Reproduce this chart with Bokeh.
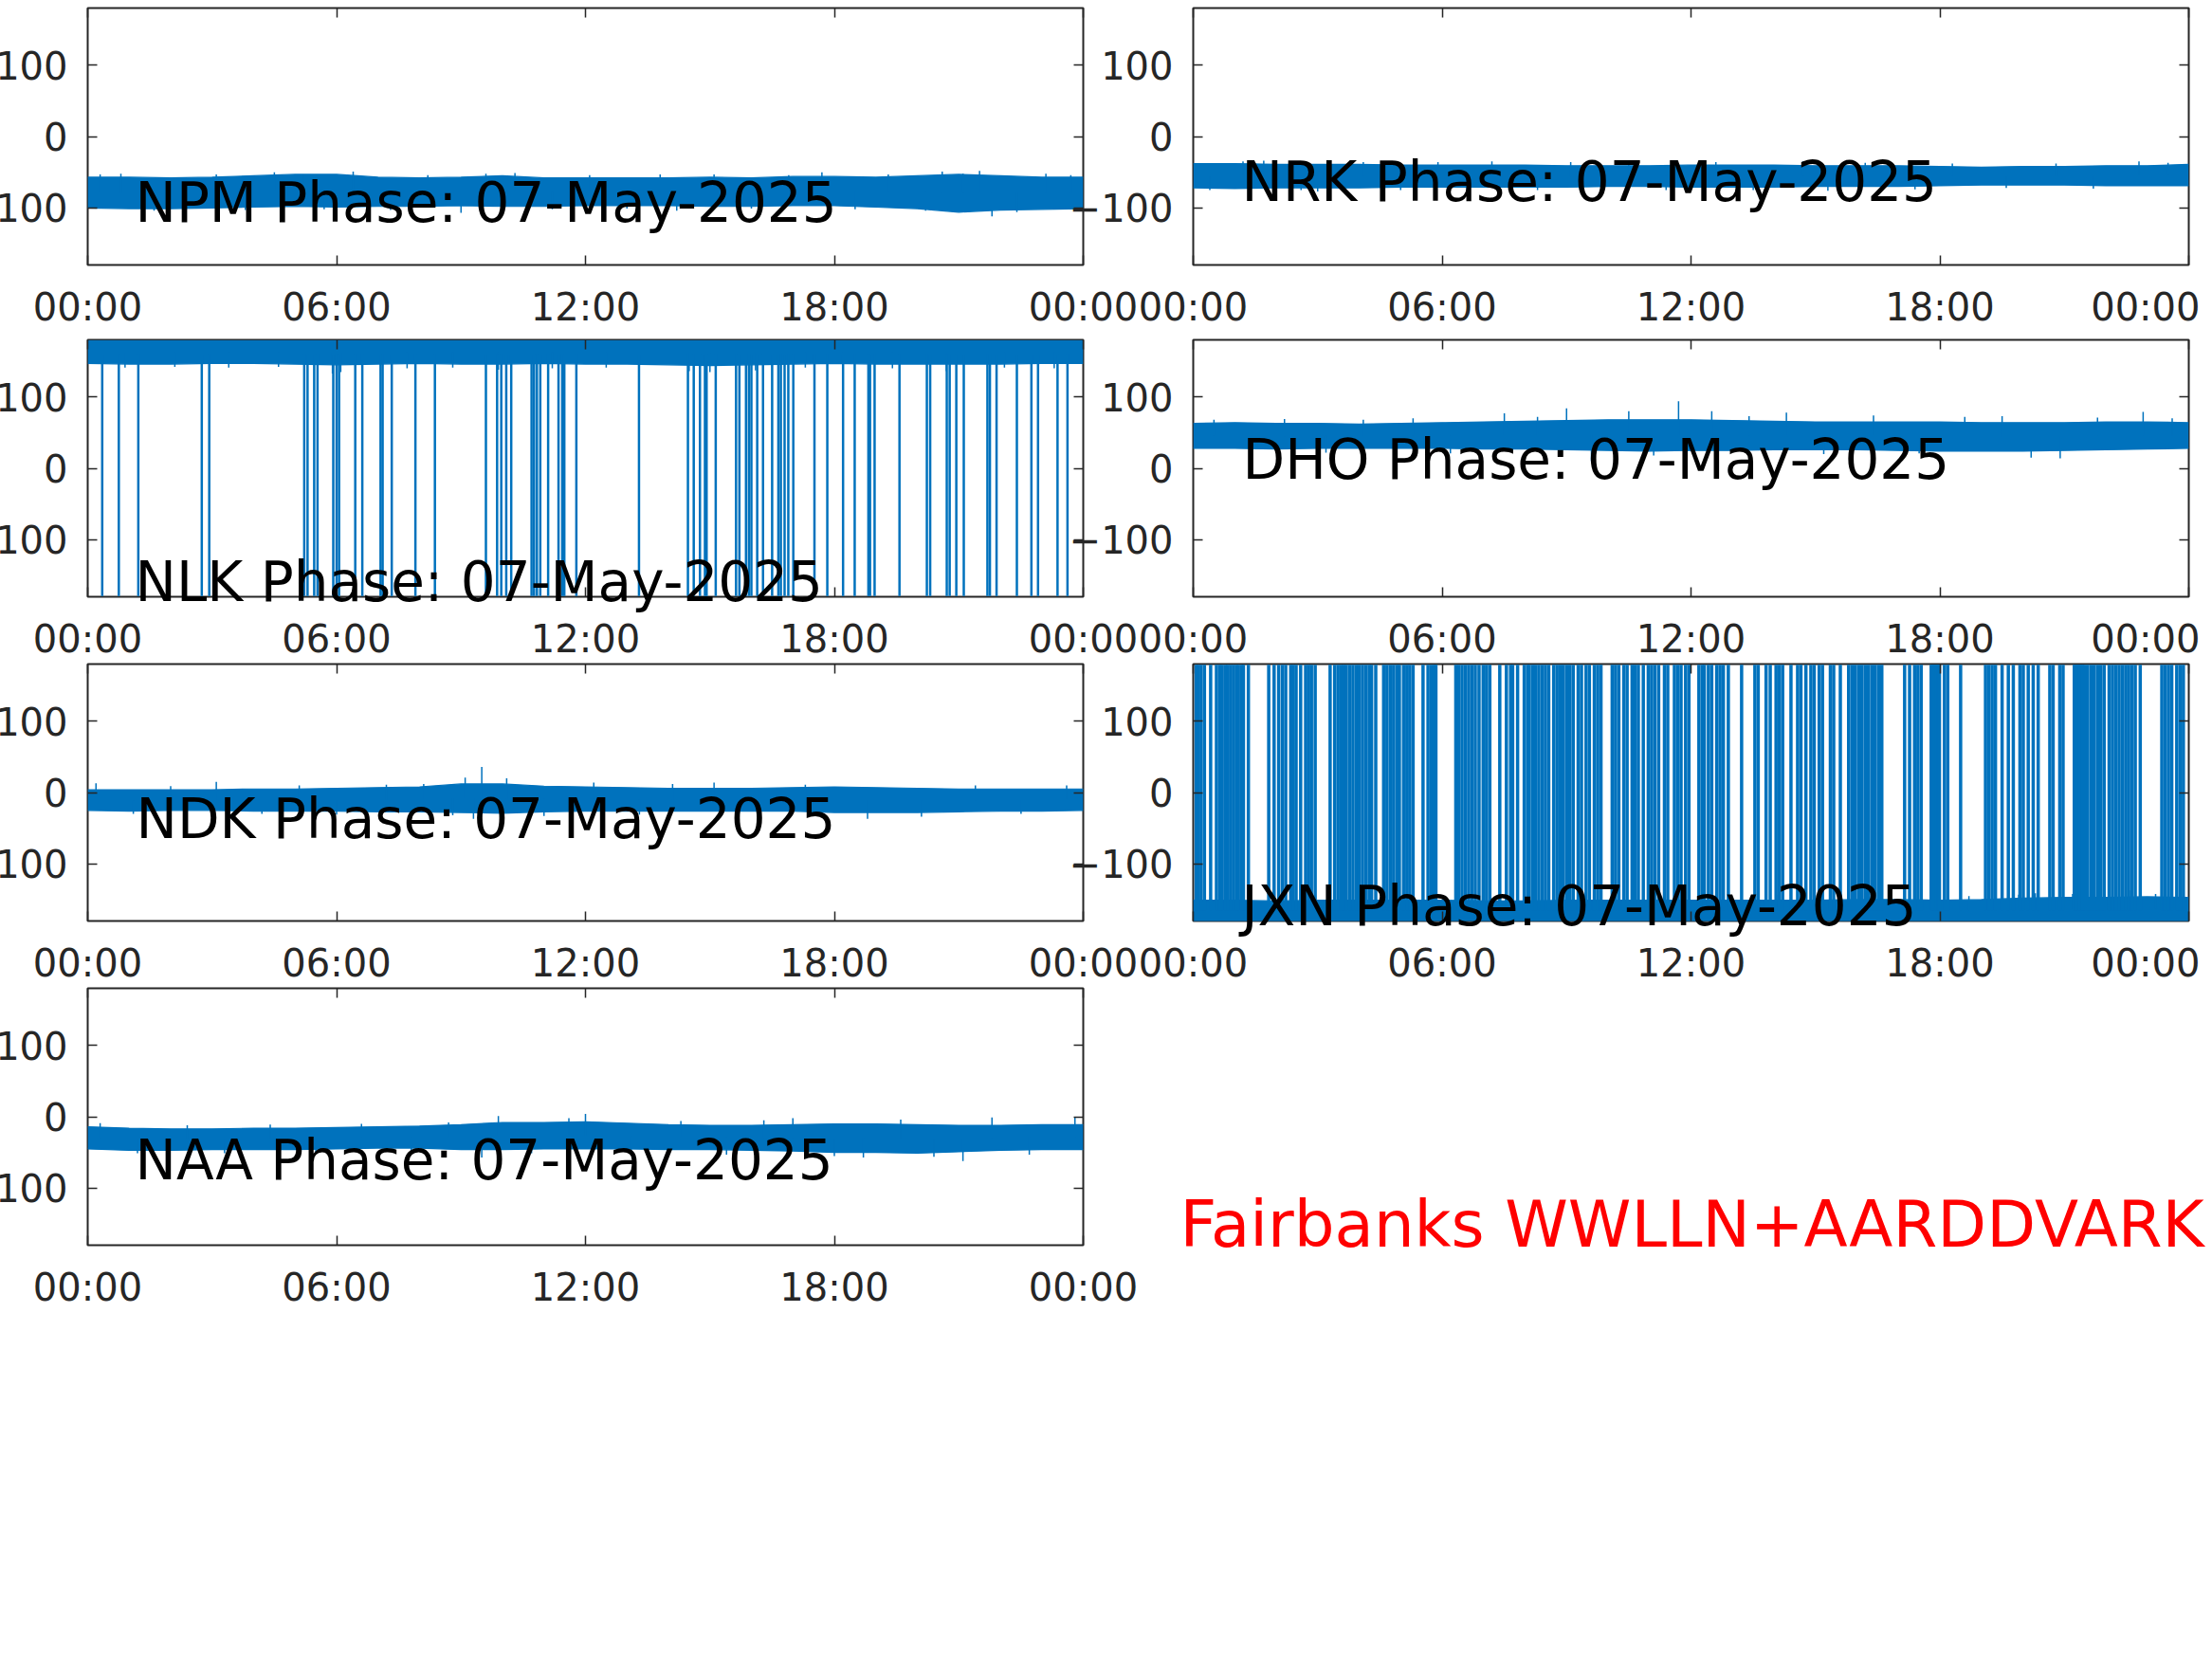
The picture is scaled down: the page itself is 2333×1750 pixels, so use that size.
from bokeh.plotting import figure
from bokeh.layouts import row, column
from bokeh.models import Range1d, FixedTicker, LinearAxis, Label, CustomJSTickFormatter
from bokeh.embed import file_html
from bokeh.resources import INLINE

# ---------------- data ----------------
HOURS = list(range(25))
X_TICKS = [0, 6, 12, 18, 24]
X_TICK_LABELS = ["00:00", "06:00", "12:00", "18:00", "00:00"]
Y_TICKS = [-100, 0, 100]
DATE = "07-May-2025"
FOOTER = "Fairbanks WWLLN+AARDDVARK"

NPM_UPPER = [-57, -57, -58, -57, -55, -53, -53, -57, -58, -57, -55, -58, -58, -58, -58, -57, -58, -56, -56, -57, -55, -53, -55, -57, -57]
NPM_LOWER = [-100, -101, -101, -100, -99, -98, -99, -98, -98, -97, -98, -98, -97, -97, -97, -98, -98, -97, -97, -99, -101, -106, -103, -102, -101]
NPM_SPIKE_T = [0.3, 0.8, 1.6, 2.3, 3.1, 3.8, 4.5, 5.2, 5.7, 6.4, 7.3, 8.2, 9.0, 9.6, 10.3, 11.2, 12.1,
               13.0, 13.8, 14.2, 15.1, 16.0, 16.9, 17.7, 18.5, 19.3, 20.2, 20.6, 21.1, 21.5, 21.8, 22.4, 23.1, 23.7]
NPM_SPIKE_V = [-53, -52, -104, -105, -53, -103, -50, -53, -102, -49, -103, -54, -107, -52, -51, -102, -54,
               -101, -53, -104, -53, -101, -54, -50, -102, -53, -104, -49, -52, -48, -112, -106, -52, -54]

NRK_UPPER = [-38, -38, -39, -39, -39, -40, -40, -40, -40, -41, -41, -41, -40, -40, -40, -41, -41, -41, -42, -43, -42, -42, -41, -41, -39]
NRK_LOWER = [-72, -73, -72, -72, -72, -71, -71, -71, -71, -71, -70, -70, -71, -71, -71, -70, -70, -70, -69, -68, -68, -68, -69, -69, -69]
NRK_SPIKE_T = [0.4, 1.2, 1.7, 2.6, 3.0, 4.1, 5.0, 5.9, 6.6, 7.2, 8.3, 9.1, 10.5, 11.4, 12.6, 13.5, 14.7,
               15.3, 16.2, 17.4, 18.3, 19.6, 20.8, 21.7, 22.8, 23.5]
NRK_SPIKE_V = [-75, -35, -34, -75, -77, -36, -75, -36, -74, -35, -75, -36, -36, -75, -36, -75, -35,
               -76, -37, -74, -38, -72, -38, -73, -35, -37]

NLK_UPPER = [179] * 25
NLK_LOWER = [147, 146, 146, 147, 147, 146, 145, 146, 147, 146, 146, 147, 146, 146, 145, 144, 145, 146, 147, 146, 146, 146, 146, 147, 147]
NLK_SPIKE_T = [0.9, 2.1, 3.4, 4.6, 5.9, 6.1, 7.7, 8.8, 9.9, 11.2, 12.5, 14.5, 15.0, 16.1, 17.3, 18.2, 19.4, 20.7, 22.1, 23.3]
NLK_SPIKE_V = [141, 142, 141, 142, 133, 135, 140, 141, 138, 140, 141, 136, 135, 137, 141, 138, 140, 136, 141, 140]
NLK_WRAPS = [0.35, 0.75, 1.22, 2.75, 2.93, 5.22, 5.30, 5.46, 5.54, 5.92, 6.00, 6.06, 6.45, 6.62,
             7.06, 7.11, 7.33, 7.90, 8.37, 9.60, 9.87, 9.97, 10.09, 10.21, 10.70, 10.76, 10.83,
             10.91, 11.10, 11.35, 11.44, 11.49, 11.78, 13.29, 14.47, 14.61, 14.76, 14.88, 14.92,
             15.14, 15.63, 15.71, 15.87, 15.94, 16.00, 16.14, 16.28, 16.50, 16.65, 16.71, 16.80,
             16.89, 17.01, 17.52, 17.83, 18.21, 18.49, 18.82, 18.86, 18.97, 19.57, 20.23, 20.31,
             20.71, 20.78, 20.94, 21.12, 21.69, 21.75, 21.91, 22.40, 22.75, 22.91, 23.38, 23.62]

DHO_UPPER = [63, 64, 63, 63, 62, 63, 64, 65, 66, 67, 68, 68, 68, 67, 66, 65, 65, 65, 65, 64, 64, 64, 65, 65, 64]
DHO_LOWER = [28, 28, 27, 28, 28, 28, 28, 27, 27, 26, 25, 24, 25, 25, 26, 26, 26, 25, 24, 24, 24, 25, 26, 27, 28]
DHO_SPIKE_T = [0.5, 1.4, 2.2, 3.2, 4.1, 5.3, 6.2, 7.5, 8.3, 9.0, 9.6, 10.5, 11.1, 11.7, 12.5, 13.4,
               14.3, 15.2, 16.4, 17.5, 18.6, 19.5, 20.2, 20.9, 21.8, 22.9, 23.6]
DHO_SPIKE_V = [68, 21, 69, 22, 68, 70, 21, 77, 72, 84, 10, 80, 18, 94, 80, 73, 78, 20, 74, 21, 72, 73,
               15, 14, 71, 79, 70]

NDK_UPPER = [4, 4, 4, 4, 5, 5, 6, 7, 8, 12, 12, 9, 8, 7, 6, 6, 6, 7, 8, 7, 6, 5, 5, 5, 5]
NDK_LOWER = [-25, -26, -25, -25, -26, -26, -26, -27, -27, -28, -29, -27, -26, -26, -26, -26, -26, -26, -28, -28, -28, -27, -26, -26, -25]
NDK_SPIKE_T = [0.2, 1.1, 2.0, 3.1, 4.2, 5.1, 6.0, 7.2, 8.1, 8.8, 9.1, 9.3, 9.5, 10.1, 11.0, 12.2,
               13.3, 14.1, 15.1, 16.2, 17.3, 18.8, 20.1, 21.4, 22.5, 23.6]
NDK_SPIKE_V = [13, -30, 9, 15, -30, 10, -31, 11, 12, -32, 21, -37, 36, 20, -33, 14, -31, 12, 14, -31,
               11, -37, -34, 10, -30, 10]

JXN_UPPER = [-151, -151, -152, -151, -151, -151, -151, -152, -152, -151, -151, -151, -151, -151, -151, -151, -150, -150, -151, -150, -148, -147, -147, -146, -147]
JXN_LOWER = [-180] * 25
JXN_SPIKE_T = [14.1, 18.7, 19.9, 20.3, 21.2, 22.6, 23.2]
JXN_SPIKE_V = [-143, -145, -143, -141, -142, -137, -142]
JXN_WRAPS = [0.07, 0.12, 0.19, 0.27, 0.42, 0.56, 0.64, 0.70, 0.78, 0.83, 0.90, 0.97, 1.04, 1.09,
             1.17, 1.21, 1.33, 1.82, 1.95, 2.06, 2.15, 2.23, 2.35, 2.41, 2.48, 2.59, 2.71, 2.78,
             2.85, 2.94, 3.30, 3.41, 3.49, 3.57, 3.63, 3.69, 3.77, 3.85, 3.93, 4.00, 4.08, 4.16,
             4.24, 4.30, 4.40, 4.59, 4.67, 4.75, 4.83, 4.91, 4.97, 5.07, 5.15, 5.22, 5.30, 5.54,
             5.66, 5.74, 5.81, 5.85, 6.33, 6.40, 6.48, 6.56, 6.64, 6.72, 6.80, 6.89, 6.99, 7.07,
             7.15, 7.39, 7.55, 7.65, 7.70, 7.82, 7.98, 8.06, 8.10, 8.18, 8.25, 8.33, 8.41, 8.49,
             8.57, 8.69, 8.77, 8.85, 8.92, 9.00, 9.08, 9.16, 9.28, 9.36, 9.47, 9.55, 9.67, 9.75,
             9.83, 10.10, 10.18, 10.26, 10.38, 10.46, 10.58, 10.65, 10.73, 10.85, 10.97, 11.05,
             11.13, 11.22, 11.36, 11.44, 11.60, 11.68, 11.76, 11.87, 11.95, 12.19, 12.27, 12.32,
             12.42, 12.50, 12.62, 12.70, 12.78, 12.90, 13.22, 13.54, 13.62, 13.81, 13.91, 14.05,
             14.13, 14.21, 14.41, 14.57, 14.65, 14.77, 14.89, 14.97, 15.09, 15.17, 15.36, 15.44,
             15.60, 15.80, 15.88, 15.96, 16.04, 16.12, 16.20, 16.28, 16.36, 16.44, 16.52, 16.60,
             17.15, 17.27, 17.39, 17.47, 17.55, 17.79, 17.83, 17.87, 17.91, 17.95, 17.99, 18.11,
             18.19, 18.50, 19.10, 19.18, 19.26, 19.34, 19.50, 19.65, 19.77, 19.93, 20.01, 20.13,
             20.25, 20.37, 20.65, 20.73, 20.89, 20.97, 21.24, 21.28, 21.32, 21.36, 21.40, 21.44,
             21.48, 21.56, 21.64, 21.72, 21.80, 21.88, 21.96, 22.08, 22.16, 22.24, 22.32, 22.40,
             22.48, 22.55, 22.63, 22.71, 22.83, 23.35, 23.43, 23.51, 23.59, 23.71, 23.79, 23.87]

NAA_UPPER = [-14, -16, -17, -17, -16, -16, -15, -14, -13, -11, -8, -8, -7, -9, -11, -12, -12, -11, -10, -10, -11, -12, -12, -11, -11]
NAA_LOWER = [-45, -47, -47, -46, -46, -46, -45, -44, -44, -46, -46, -45, -45, -45, -46, -46, -47, -48, -50, -50, -51, -49, -47, -46, -46]
NAA_SPIKE_T = [0.3, 1.2, 2.4, 3.3, 4.4, 5.5, 6.6, 7.8, 8.7, 9.5, 9.9, 10.7, 11.6, 12.0, 13.1, 14.3,
               15.4, 16.3, 17.0, 18.0, 18.7, 19.6, 20.4, 21.1, 21.8, 22.7, 23.8]
NAA_SPIKE_V = [-9, -51, -12, -51, -11, -50, -10, -49, -8, -57, 1, -51, -2, 4, -52, -6, -53, -5, -2,
               -55, -57, -4, -56, -62, -1, -53, -1]

STATIONS = ["NPM", "NRK", "NLK", "DHO", "NDK", "JXN", "NAA"]
# caption placement on the page (left edge, vertical centre), pixels
CAPTION_X = [144, 1311, 144, 1312, 145, 1311, 144]
CAPTION_Y = [211, 189, 611, 482, 861, 953, 1221]
FOOTER_X = 1246
FOOTER_Y = 1289

# ---------------- styling ----------------
BLUE = "#0072BD"
AX = "#262626"
FONT = "DejaVu Sans"
FRAME_W = 1050
FRAME_H = 271
LEFT_B = 123
TOP_B = 1
ROW_BOTTOM = [78, 70, 69, 69]
OVERLAP = 78
RIGHT_B_COL1 = 60
RIGHT_B_COL2 = 12
PAGE_TOP = 7
OV_LEFT = -32


def make_panel(upper, lower, spike_t, spike_v, wraps, wrap_from, wrap_to, wrap_w, row_i, right_col):
    right_b = RIGHT_B_COL2 if right_col else RIGHT_B_COL1
    p = figure(frame_width=FRAME_W, frame_height=FRAME_H,
               x_range=Range1d(0, 24), y_range=Range1d(-180, 180),
               output_backend="svg", toolbar_location=None,
               min_border_left=LEFT_B, min_border_right=right_b,
               min_border_top=TOP_B, min_border_bottom=ROW_BOTTOM[row_i])
    if right_col:
        p.border_fill_alpha = 0
        p.margin = (0, 0, 0, -OVERLAP)
    p.xgrid.grid_line_color = None
    p.ygrid.grid_line_color = None
    p.outline_line_color = AX
    p.outline_line_width = 2
    p.background_fill_color = "white"
    for ax, ticks in ((p.xaxis[0], X_TICKS), (p.yaxis[0], Y_TICKS)):
        ax.ticker = FixedTicker(ticks=ticks)
        ax.axis_line_color = None
        ax.major_tick_in = 10
        ax.major_tick_out = 0
        ax.minor_tick_line_color = None
        ax.major_tick_line_color = AX
        ax.major_tick_line_width = 1.5
        ax.major_label_text_font = FONT
        ax.major_label_text_font_size = "40px"
        ax.major_label_text_color = AX
    p.xaxis[0].major_label_overrides = dict(zip(X_TICKS, X_TICK_LABELS))
    p.xaxis[0].major_label_standoff = 21
    p.yaxis[0].major_label_standoff = 21
    for loc, ticks in (("above", X_TICKS), ("right", Y_TICKS)):
        ax = LinearAxis(ticker=FixedTicker(ticks=ticks),
                        formatter=CustomJSTickFormatter(code="return ''"),
                        major_label_text_font_size="1px", major_label_standoff=0,
                        axis_line_color=None, major_tick_in=10, major_tick_out=0,
                        minor_tick_line_color=None, major_tick_line_color=AX,
                        major_tick_line_width=1.5)
        p.add_layout(ax, loc)

    # noise band
    p.varea(x=HOURS, y1=lower, y2=upper, fill_color=BLUE)
    p.line(HOURS, upper, line_color=BLUE, line_width=1.2)
    p.line(HOURS, lower, line_color=BLUE, line_width=1.2)
    mid = [(u + l) / 2 for u, l in zip(upper, lower)]
    base = [mid[int(round(t))] for t in spike_t]
    p.segment(x0=spike_t, y0=base, x1=spike_t, y1=spike_v, line_color=BLUE, line_width=1.5)
    # phase wraps
    if wraps:
        p.segment(x0=wraps, y0=[wrap_from] * len(wraps), x1=wraps, y1=[wrap_to] * len(wraps),
                  line_color=BLUE, line_width=wrap_w)
    return p


npm = make_panel(NPM_UPPER, NPM_LOWER, NPM_SPIKE_T, NPM_SPIKE_V, [], 0, 0, 0, 0, False)
nrk = make_panel(NRK_UPPER, NRK_LOWER, NRK_SPIKE_T, NRK_SPIKE_V, [], 0, 0, 0, 0, True)
nlk = make_panel(NLK_UPPER, NLK_LOWER, NLK_SPIKE_T, NLK_SPIKE_V, NLK_WRAPS, 160, -179, 2.5, 1, False)
dho = make_panel(DHO_UPPER, DHO_LOWER, DHO_SPIKE_T, DHO_SPIKE_V, [], 0, 0, 0, 1, True)
ndk = make_panel(NDK_UPPER, NDK_LOWER, NDK_SPIKE_T, NDK_SPIKE_V, [], 0, 0, 0, 2, False)
jxn = make_panel(JXN_UPPER, JXN_LOWER, JXN_SPIKE_T, JXN_SPIKE_V, JXN_WRAPS, -165, 179, 3.5, 2, True)
naa = make_panel(NAA_UPPER, NAA_LOWER, NAA_SPIKE_T, NAA_SPIKE_V, [], 0, 0, 0, 3, False)

panels = column(row(npm, nrk), row(nlk, dho), row(ndk, jxn), row(naa),
                margin=(PAGE_TOP, -30, 0, -42))

# transparent overlay (separate root) carrying all captions, so they may cross the frames
total_h = sum(TOP_B + FRAME_H + b for b in ROW_BOTTOM)
total_w = 2362
ov = figure(width=total_w, height=total_h,
            x_range=Range1d(OV_LEFT, OV_LEFT + total_w),
            y_range=Range1d(PAGE_TOP + total_h, PAGE_TOP),
            output_backend="svg", toolbar_location=None,
            x_axis_location=None, y_axis_location=None,
            min_border_left=0, min_border_right=0, min_border_top=0, min_border_bottom=0)
ov.xgrid.grid_line_color = None
ov.ygrid.grid_line_color = None
ov.outline_line_color = None
ov.background_fill_alpha = 0
ov.border_fill_alpha = 0
ov.margin = (-total_h, 0, 0, OV_LEFT - 2)
for name, cx, cy in zip(STATIONS, CAPTION_X, CAPTION_Y):
    ov.add_layout(Label(x=cx, y=cy, text=f"{name} Phase: {DATE}", text_font=FONT,
                        text_font_size="58px", text_color="black",
                        text_baseline="middle", text_align="left"))
ov.add_layout(Label(x=FOOTER_X, y=FOOTER_Y, text=FOOTER, text_font=FONT, text_font_size="67.4px",
                    text_color="#FF0000", text_baseline="middle", text_align="left"))

open("out.html", "w").write(file_html([panels, ov], INLINE))
